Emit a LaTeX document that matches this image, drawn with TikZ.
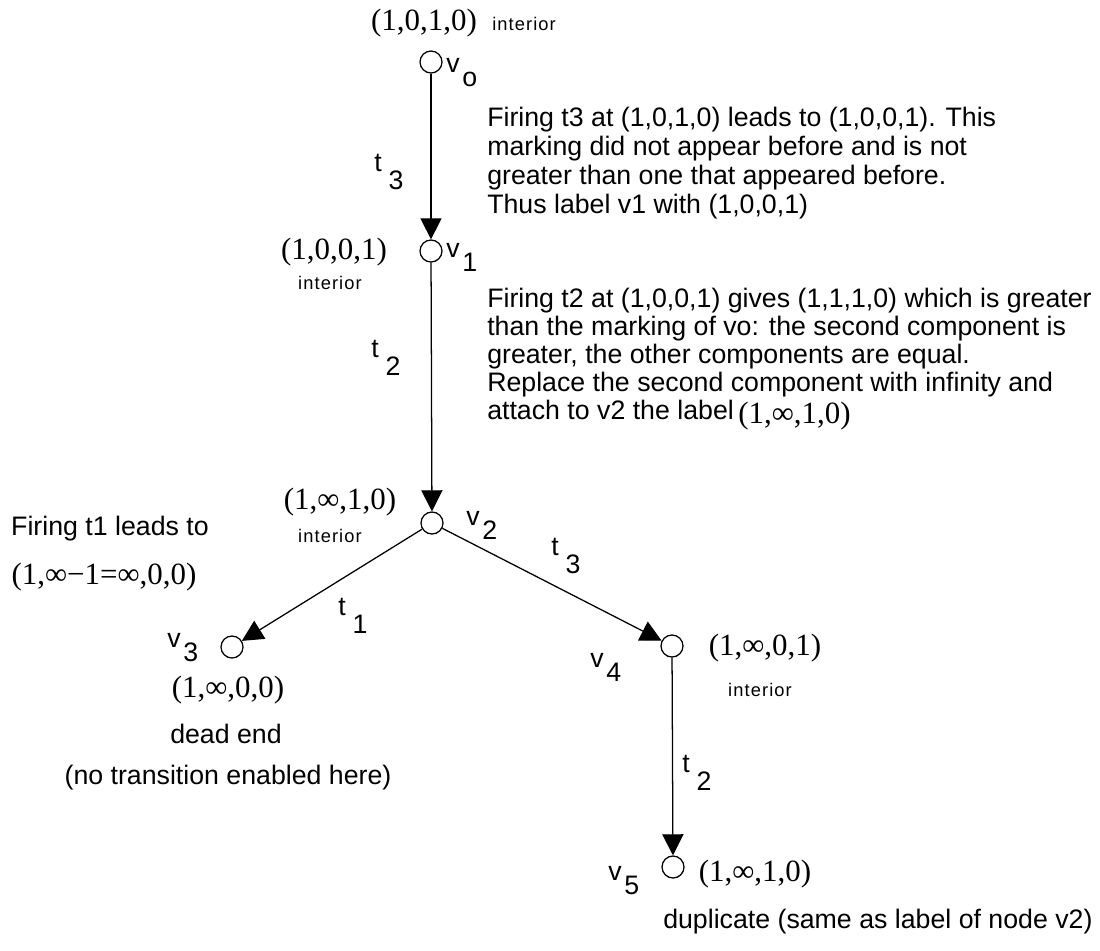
\documentclass[tikz,border=0pt]{standalone}
\usepackage{fontspec}
\setmainfont{Liberation Serif}
\setsansfont{Liberation Sans}
\usetikzlibrary{positioning, arrows.meta}

\newcommand{\vname}[1]{v\hspace{2pt}\raisebox{-10pt}{#1}}
\newcommand{\tname}[1]{t\hspace{5pt}\raisebox{-13pt}{#1}}

\begin{document}
\begin{tikzpicture}[x=0.025cm, y=-0.025cm, >={Triangle[length=15pt, width=15pt]},
      font=\sffamily\fontsize{19}{17}\selectfont,
      state/.style={draw, circle, line width=0.9pt, fill=white, minimum size=0.55cm, inner sep=0pt},
      arc/.style={->, line width=0.9pt},
      lab/.style={anchor=base west, inner sep=0pt},
      tup/.style={font=\rmfamily\fontsize{22}{24}\selectfont, inner sep=0pt},
      intr/.style={font=\sffamily\fontsize{13}{15}\selectfont\addfontfeature{LetterSpace=6}, inner sep=0pt},
      note/.style={anchor=north west, align=left, inner sep=0pt}]
    \useasboundingbox (0,0) rectangle (1100,950);

    % coverability tree
    \node[state] (v0) at (431,62)  {};
    \node[state] (v1) at (431,251) {};
    \node[state] (v2) at (432,523) {};
    \node[state] (v3) at (232,647) {};
    \node[state] (v4) at (672,646) {};
    \node[state] (v5) at (673,867) {};
    \draw[arc] (v0) -- (v1);
    \draw[arc] (v1) -- (v2);
    \draw[arc] (v2) -- (v3);
    \draw[arc] (v2) -- (v4);
    \draw[arc] (v4) -- (v5);

    \node[lab] (n0) at (446,72)  {\vname{o}};
    \node[lab] (n1) at (446,257) {\vname{1}};
    \node[lab] (n2) at (466,525) {\vname{2}};
    \node[lab] (n3) at (167,647) {\vname{3}};
    \node[lab] (n4) at (590,667) {\vname{4}};
    \node[lab] (n5) at (608,880) {\vname{5}};

    \node[lab] (e01) at (374,171) {\tname{3}};
    \node[lab] (e12) at (371,357) {\tname{2}};
    \node[lab] (e23) at (338,615) {\tname{1}};
    \node[lab] (e24) at (551,555) {\tname{3}};
    \node[lab] (e45) at (682,772) {\tname{2}};

    % markings
    \node[tup] (m0) at (424,23)  {(1,0,1,0)};
    \node[intr, anchor=base west] (i0) at (492,30) {interior};
    \node[tup] (m1) at (334,252) {(1,0,0,1)};
    \node[intr] (i1) at (330,283) {interior};
    \node[tup] (m2) at (340,502) {(1,∞,1,0)};
    \node[intr] (i2) at (330,536) {interior};
    \node[tup] (m3) at (228,690) {(1,∞,0,0)};
    \node (d3) at (226,734) {dead end};
    \node (d3b) at (228,778) {(no transition enabled here)};
    \node (f1) at (110,529) {Firing t1 leads to};
    \node[tup] (f1m) at (104,577) {(1,∞−1=∞,0,0)};
    \node[tup] (m4) at (765,648) {(1,∞,0,1)};
    \node[intr] (i4) at (760,690) {interior};
    \node[tup] (m5) at (755,874) {(1,∞,1,0)};
    \node[lab] (dup) at (663,928) {duplicate (same as label of node v2)};

    % comments
    \node[note, font=\sffamily\fontsize{19}{20.5}\selectfont] (c1) at (487,107)
      {Firing t3 at (1,0,1,0) leads to (1,0,0,1). This\\
       marking did not appear before and is not\\
       greater than one that appeared before.\\
       Thus label v1 with (1,0,0,1)};
    \node[note, font=\sffamily\fontsize{19}{19.8}\selectfont] (c2) at (487,288)
      {Firing t2 at (1,0,0,1) gives (1,1,1,0) which is greater\\
       than the marking of vo: the second component is\\
       greater, the other components are equal.\\
       Replace the second component with infinity and\\
       attach to v2 the label\,\raisebox{-3pt}{\rmfamily\fontsize{22}{24}\selectfont(1,∞,1,0)}};
  \end{tikzpicture}
\end{document}
